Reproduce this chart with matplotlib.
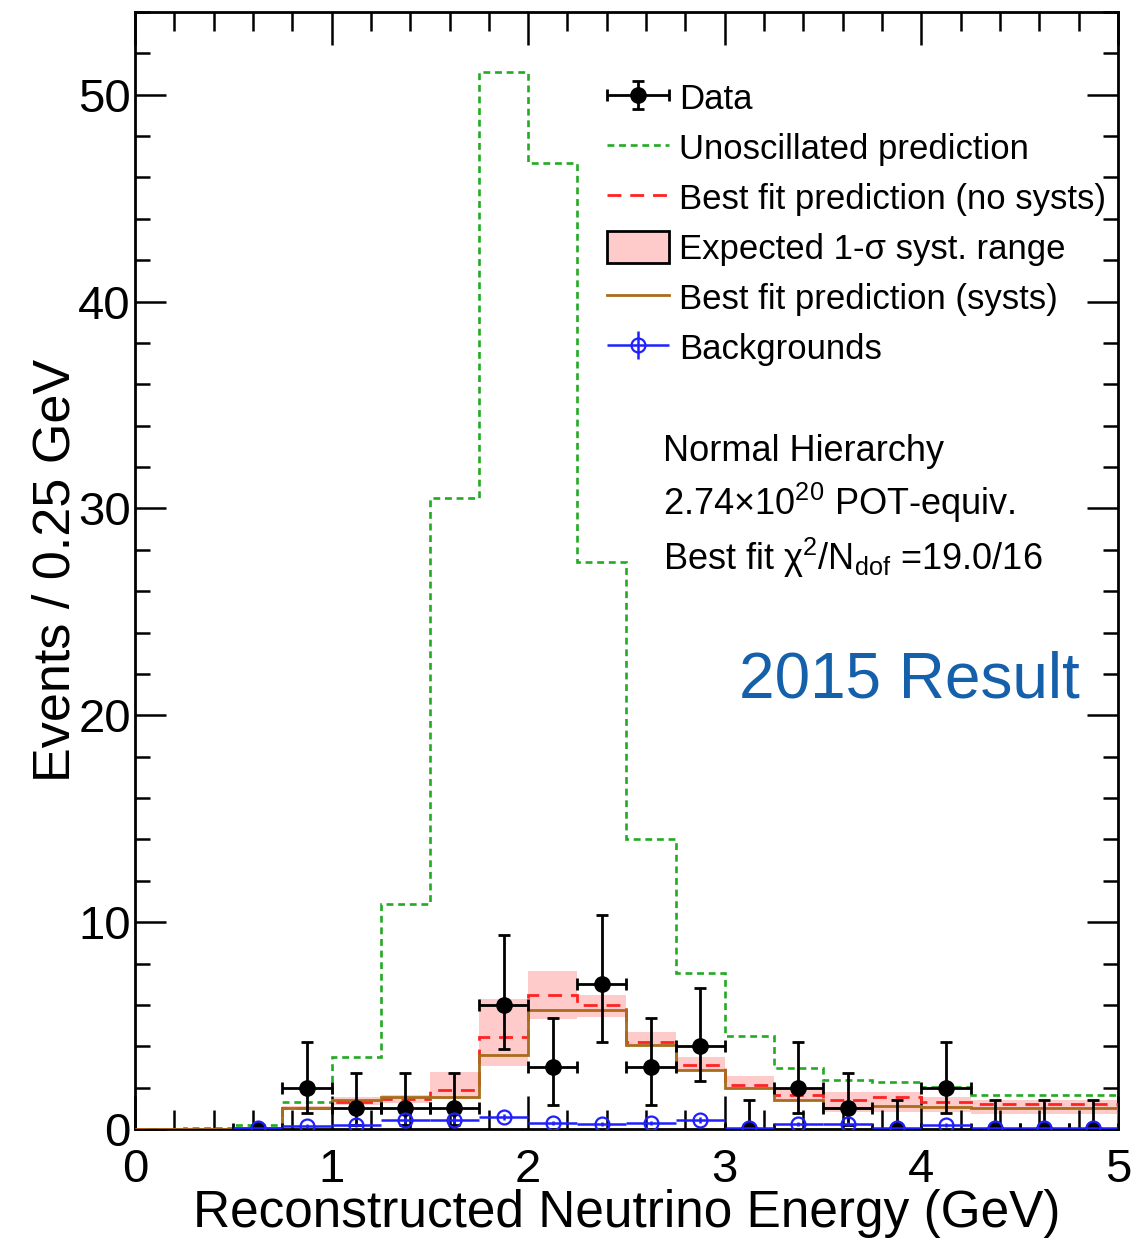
import numpy as np
import matplotlib
matplotlib.use("Agg")
import matplotlib.pyplot as plt
import matplotlib.patches as mpatches
from matplotlib.container import ErrorbarContainer
from matplotlib.legend_handler import HandlerErrorbar
from matplotlib.ticker import MultipleLocator

plt.rcParams['font.family'] = ['Liberation Sans', 'DejaVu Sans']
plt.rcParams['mathtext.fontset'] = 'custom'
plt.rcParams['mathtext.rm'] = 'Liberation Sans'
plt.rcParams['mathtext.it'] = 'Liberation Sans:italic'

# 0.25 GeV bins from 0 to 5 GeV
edges = np.arange(0, 5.01, 0.25)

# unoscillated prediction (green)
unosc = [0.02, 0.05, 0.2, 1.3, 3.47, 10.9, 30.5, 51.1, 46.7, 27.4,
         14.0, 7.56, 4.5, 2.95, 2.35, 2.25, 2.02, 1.63, 1.63, 1.63]
# best fit, no systematics (red dashed)
fit_nosyst = [0.0, 0.0, 0.05, 1.0, 1.32, 1.45, 1.88, 4.47, 6.5, 6.0,
              4.2, 3.07, 2.12, 1.64, 1.4, 1.54, 1.32, 1.22, 1.22, 1.22]
# best fit with systematics (brown)
fit_syst = [0.0, 0.0, 0.05, 1.0, 1.4, 1.53, 1.53, 3.58, 5.77, 5.77,
            4.08, 2.86, 1.98, 1.4, 1.0, 1.11, 1.05, 1.0, 1.0, 1.0]
# expected 1-sigma syst. range (pink band)
band_hi = [0.0, 0.0, 0.0, 1.1, 1.55, 1.65, 2.75, 6.26, 7.63, 6.5,
           4.71, 3.46, 2.57, 1.96, 1.8, 1.8, 1.56, 1.4, 1.4, 1.4]
band_lo = [0.0, 0.0, 0.0, 0.9, 1.15, 1.25, 1.45, 3.06, 5.34, 5.4,
           4.02, 2.82, 1.96, 1.33, 0.84, 0.84, 0.84, 0.74, 0.74, 0.74]

# data points at bin centres 0.625 ... 4.875
centers = [0.625, 0.875, 1.125, 1.375, 1.625, 1.875, 2.125, 2.375, 2.625,
           2.875, 3.125, 3.375, 3.625, 3.875, 4.125, 4.375, 4.625, 4.875]
data = [0, 2, 1, 1, 1, 6, 3, 7, 3, 4, 0, 2, 1, 0, 2, 0, 0, 0]
data_lo = [0, 1.21, 0.83, 0.83, 0.83, 2.14, 1.86, 2.79, 1.86, 1.68,
           0, 1.21, 0.83, 0, 1.21, 0, 0, 0]
data_hi = [0, 2.21, 1.7, 1.7, 1.7, 3.4, 2.38, 3.33, 2.38, 2.82,
           1.4, 2.21, 1.7, 1.4, 2.21, 1.4, 1.4, 1.4]
half_bin = 0.125

# backgrounds (blue)
bkg = [0.05, 0.14, 0.19, 0.45, 0.45, 0.56, 0.3, 0.24, 0.3, 0.43,
       0.05, 0.24, 0.24, 0.05, 0.19, 0.05, 0.05, 0.05]
bkg_err = [0.05, 0.1, 0.1, 0.15, 0.15, 0.15, 0.1, 0.1, 0.1, 0.15,
           0.05, 0.1, 0.1, 0.05, 0.1, 0.05, 0.05, 0.05]

green = '#22aa22'
red = '#ff2222'
brown = '#a86c1c'
pink = '#ffcaca'
blue = '#2020ff'
green_ls = (0, (2.6, 1.8))
red_ls = (0, (5, 3.2))

fig = plt.figure(figsize=(11.38, 12.39), dpi=100)
ax = fig.add_axes([0.1186, 0.0888, 0.8638, 0.9015])

ax.stairs(band_hi, edges, baseline=band_lo, fill=True, color=pink, lw=0, zorder=1)
ax.stairs(unosc, edges, color=green, lw=1.9, ls=green_ls, zorder=2)
ax.stairs(fit_nosyst, edges, color=red, lw=2.0, ls=red_ls, zorder=3)
ax.stairs(fit_syst, edges, color=brown, lw=2.0, zorder=3)

h_data = ax.errorbar(centers, data, xerr=half_bin, yerr=[data_lo, data_hi],
                     fmt='o', color='k', ms=11, lw=2, capsize=4, capthick=2, zorder=4)
h_bkg = ax.errorbar(centers, bkg, xerr=half_bin, yerr=bkg_err, fmt='o', color=blue,
                    mfc='none', mec=blue, ms=10, mew=1.6, lw=1.8, capsize=0, zorder=5)

ax.set_xlim(0, 5)
ax.set_ylim(0, 54)
ax.xaxis.set_major_locator(MultipleLocator(1))
ax.xaxis.set_minor_locator(MultipleLocator(0.2))
ax.yaxis.set_major_locator(MultipleLocator(10))
ax.yaxis.set_minor_locator(MultipleLocator(2))
ax.tick_params(which='both', direction='in', top=True, right=True, width=1.8)
ax.tick_params(axis='x', which='major', length=24, pad=14, labelsize=34)
ax.tick_params(axis='x', which='minor', length=13.5)
ax.tick_params(axis='y', which='major', length=22, pad=3, labelsize=34)
ax.tick_params(axis='y', which='minor', length=11)
for s in ax.spines.values():
    s.set_linewidth(2)

ax.set_xlabel('Reconstructed Neutrino Energy (GeV)', fontsize=37, va='baseline')
ax.xaxis.set_label_coords(0.5, -0.0875)
ax.set_ylabel('Events / 0.25 GeV', fontsize=37.5)
ax.yaxis.set_label_coords(-0.055, 0.5)

# legend: lines instead of step patches, box with black edge for the band
band_proxy = mpatches.Patch(facecolor=pink, edgecolor='k', lw=2)
line_unosc = plt.Line2D([], [], color=green, lw=1.9, ls=green_ls)
line_nosyst = plt.Line2D([], [], color=red, lw=2.0, ls=red_ls)
line_syst = plt.Line2D([], [], color=brown, lw=2.0)
handles = [h_data, line_unosc, line_nosyst, band_proxy, line_syst, h_bkg]
labels = ['Data', 'Unoscillated prediction', 'Best fit prediction (no systs)',
          'Expected 1-σ syst. range', 'Best fit prediction (systs)', 'Backgrounds']
ax.legend(handles, labels, loc='upper left', bbox_to_anchor=(0.48, 0.938),
          frameon=False, fontsize=25, borderpad=0, borderaxespad=0,
          handlelength=1.78, handleheight=1.0, handletextpad=0.3, labelspacing=0.45,
          handler_map={ErrorbarContainer: HandlerErrorbar(xerr_size=0.89, yerr_size=0.4)})

ax.text(0.537, 0.598, 'Normal Hierarchy', transform=ax.transAxes, fontsize=26)
ax.text(0.537, 0.5497, r'2.74×10$^{20}$ POT-equiv.', transform=ax.transAxes, fontsize=26)
ax.text(0.537, 0.5004, r'Best fit χ$^{2}$/N$_{\rm dof}$ =19.0/16', transform=ax.transAxes,
        fontsize=26)
ax.text(0.9613, 0.386, '2015 Result', transform=ax.transAxes, fontsize=46,
        color='#1560ab', ha='right')

fig.savefig('out.png', dpi=100)
